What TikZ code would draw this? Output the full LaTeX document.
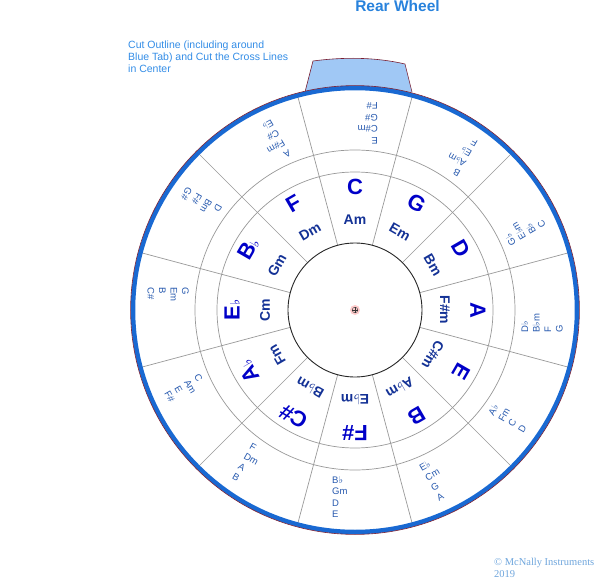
\documentclass[tikz,border=0pt]{standalone}
\usepackage{fontspec}
\setmainfont{Liberation Sans}
\newfontfamily\symf{DejaVu Sans}
\newfontfamily\serf{Liberation Serif}
\usetikzlibrary{calc}
\definecolor{majc}{RGB}{0,0,200}
\definecolor{minc}{RGB}{20,50,150}
\definecolor{outc}{RGB}{40,90,175}
\definecolor{ringblue}{RGB}{25,105,210}
\definecolor{cutred}{RGB}{120,30,50}
\definecolor{tabfill}{RGB}{160,200,245}
\definecolor{titlec}{RGB}{40,130,220}
\definecolor{notec}{RGB}{50,140,230}
\definecolor{copyc}{RGB}{110,165,220}
\newcommand\fl{{\symf ♭}}
\newcommand\bfl{{\symf\fontsize{13}{13}\selectfont ♭}}
\tikzset{
  majorlab/.style={font=\fontsize{22}{22}\selectfont\bfseries, text=majc, inner sep=0pt},
  minorlab/.style={font=\fontsize{14}{14}\selectfont\bfseries, text=minc, inner sep=0pt},
  outerlab/.style={font=\fontsize{9.5}{11.5}\selectfont, text=outc, inner sep=0pt, anchor=north west, align=left},
  grayline/.style={draw=black!40, line width=0.7pt},
}
\newcommand\wsector[5]{%
  \node[majorlab, rotate={#1-90}] (maj#5) at (#1:123) {#2};
  \node[minorlab, rotate={#1-90}] (min#5) at (#1:90) {#3};
  \node[outerlab, rotate={#1+90}] (out#5) at ($(#1:166)+({#1-90}:23)$) {#4};
}
\begin{document}
\begin{tikzpicture}[x=1pt,y=1pt]
\useasboundingbox (-355,-269) rectangle (245,310);
% tab
\draw[fill=tabfill, draw=cutred, line width=0.6pt] (-50,218) -- (-42,249) .. controls (-12,253) and (20,253) .. (50,246) -- (57,218);
% wheel body
\fill[white] (0,0) circle (224);
\foreach \a in {15,45,...,345} \draw[grayline] (\a:67) -- (\a:221);
\draw[grayline] (0,0) circle (138);
\draw[grayline] (0,0) circle (160);
\draw[black!85, line width=0.9pt] (0,0) circle (67);
\draw[ringblue, line width=4.5pt] (0,0) circle (222);
\draw[cutred, line width=0.6pt] (0,0) circle (224.4);
% center mark
\fill[red!20] (0,0) circle (5);
\draw[black!70, line width=0.5pt] (0,0) circle (2.8);
\draw[black!80, line width=0.5pt] (-3,0) -- (3,0) (0,-3) -- (0,3);
% sectors
\wsector{90}{C}{Am}{E\\C\#m\\G\#\\F\#}{c}
\wsector{60}{G}{Em}{B\\A\fl m\\E\fl\\F}{g}
\wsector{30}{D}{Bm}{G\fl\\E\fl m\\B\fl\\C}{d}
\wsector{0}{A}{F\#m}{D\fl\\B\fl m\\F\\G}{a}
\wsector{-30}{E}{C\#m}{A\fl\\Fm\\C\\D}{e}
\wsector{-60}{B}{A\fl m}{E\fl\\Cm\\G\\A}{b}
\wsector{-90}{F\#}{E\fl m}{B\fl\\Gm\\D\\E}{fs}
\wsector{-120}{C\#}{B\fl m}{F\\Dm\\A\\B}{cs}
\wsector{-150}{A\bfl}{Fm}{C\\Am\\E\\F\#}{ab}
\wsector{180}{E\bfl}{Cm}{G\\Em\\B\\C\#}{eb}
\wsector{150}{B\bfl}{Gm}{D\\Bm\\F\#\\G\#}{bb}
\wsector{120}{F}{Dm}{A\\F\#m\\C\#\\E\fl}{f}
% texts
\node[font=\fontsize{15.5}{15.5}\selectfont\bfseries, text=titlec, anchor=base, inner sep=0pt] (title) at (42.5,298) {Rear Wheel};
\node[font=\fontsize{10.5}{12}\selectfont, text=notec, anchor=base west, align=left, inner sep=0pt] (note) at (-227,237) {Cut Outline (including around\\Blue Tab) and Cut the Cross Lines\\in Center};
\node[font=\serf\fontsize{10.5}{12}\selectfont, text=copyc, anchor=base west, align=left, inner sep=0pt] (copy) at (139,-267) {© McNally Instruments\\2019};
\end{tikzpicture}
\end{document}
